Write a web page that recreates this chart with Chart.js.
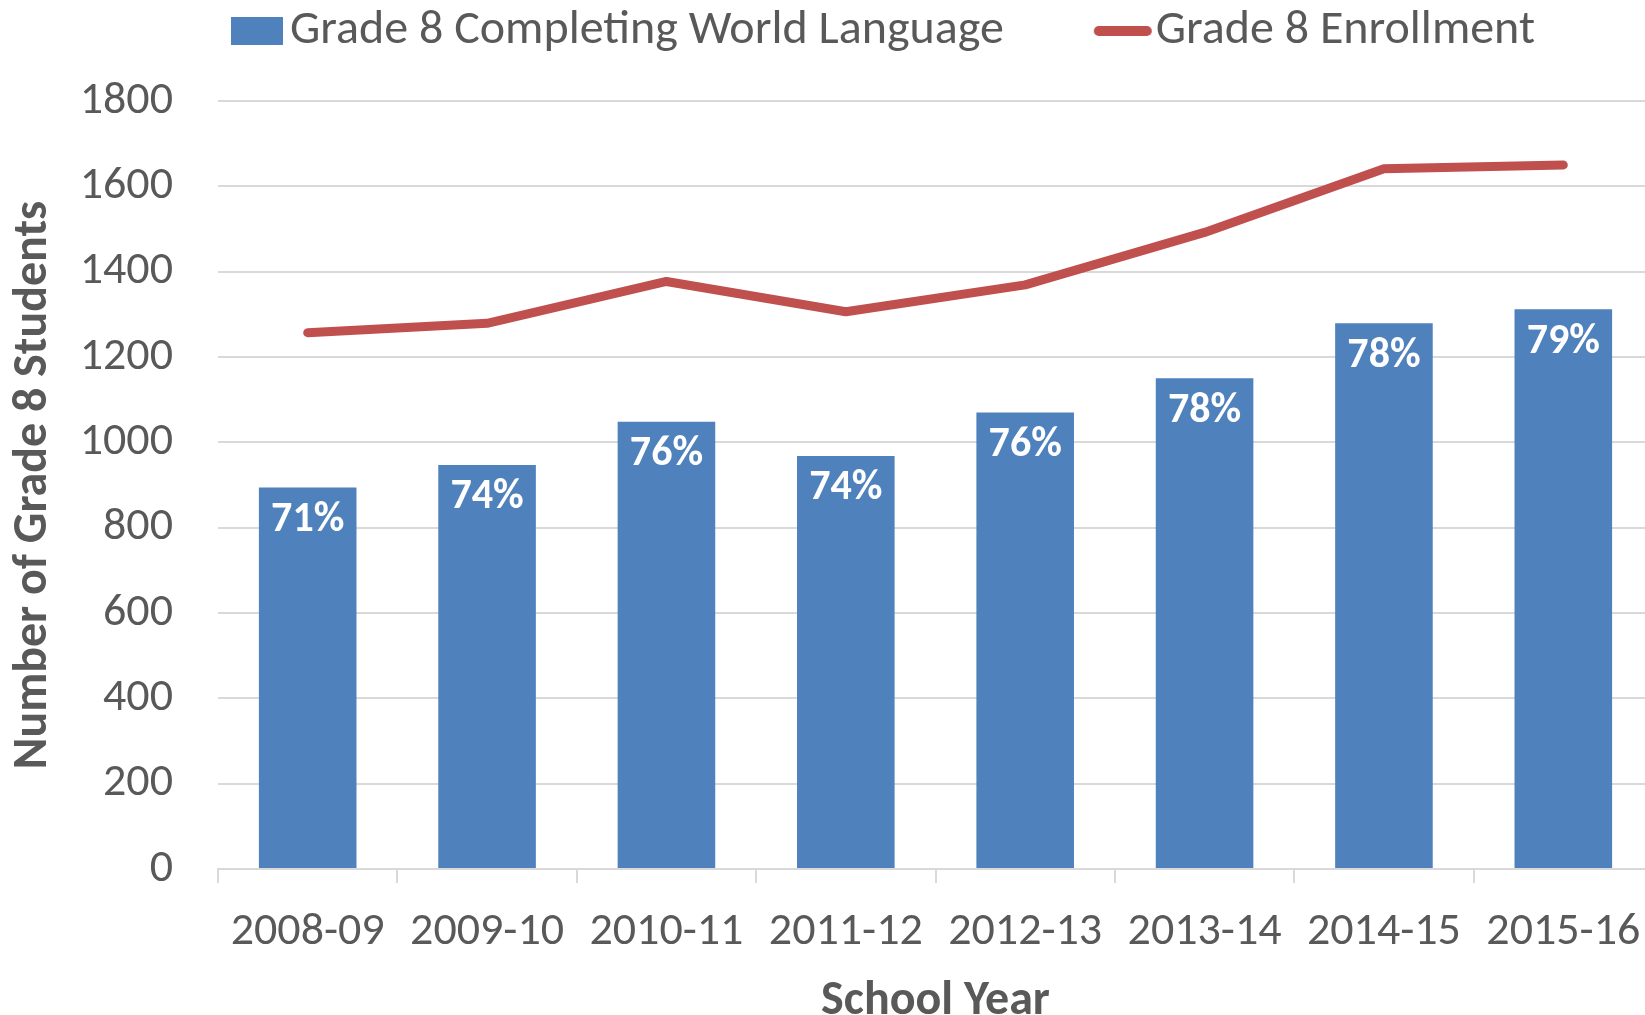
<!DOCTYPE html>
<html lang="en">
  <head>
    <meta charset="UTF-8" />
    <title>Grade 8 World Language</title>
    <script src="https://cdn.jsdelivr.net/npm/chart.js@4.4.1/dist/chart.umd.min.js"></script>
    <style>
      html, body { margin: 0; padding: 0; overflow: hidden; background: #fff; }
      canvas { display: block; }
    </style>
  </head>
  <body>
    <!-- a little wider than the window: the original is cut off on the right -->
    <canvas id="myChart" width="1653" height="1015"></canvas>

    <script>
      const years = ["2008-09", "2009-10", "2010-11", "2011-12", "2012-13", "2013-14", "2014-15", "2015-16"];
      const completing = [894, 947, 1048, 968, 1070, 1150, 1279, 1312];
      const enrollment = [1257, 1279, 1377, 1306, 1369, 1492, 1641, 1650];
      const pctLabels = ["71%", "74%", "76%", "74%", "76%", "78%", "78%", "79%"];
      const yTicks = [0, 200, 400, 600, 800, 1000, 1200, 1400, 1600, 1800];

      const FONT = "'Carlito', 'Liberation Sans Narrow', Lato, 'Open Sans', sans-serif";
      const GREY = "#595959";
      const BLUE = "#4f81bd";
      const RED = "#c0504d";
      const LEGEND_GAP = 110;

      // legend markers as small images so the text can sit close to them
      function makeMarker(w, h, draw) {
        const c = document.createElement("canvas");
        c.width = w;
        c.height = h;
        draw(c.getContext("2d"));
        return c;
      }
      const barMarker = makeMarker(52, 28, (g) => {
        g.fillStyle = BLUE;
        g.fillRect(0, 0, 52, 28);
      });
      const lineMarker = makeMarker(60, 12, (g) => {
        g.strokeStyle = RED;
        g.lineWidth = 10;
        g.lineCap = "round";
        g.beginPath();
        g.moveTo(6, 6);
        g.lineTo(54, 6);
        g.stroke();
      });

      // white % labels inside the bars
      const barLabels = {
        id: "barLabels",
        afterDatasetsDraw(chart) {
          const ctx = chart.ctx;
          const meta = chart.getDatasetMeta(0);
          ctx.save();
          ctx.fillStyle = "#fff";
          ctx.font = "bold 42px " + FONT;
          ctx.textAlign = "center";
          ctx.textBaseline = "middle";
          meta.data.forEach((bar, i) => {
            ctx.fillText(pctLabels[i], bar.x, bar.y + 33);
          });
          ctx.restore();
        },
      };

      // legend: fixed height above the plot, moved up/right like the original
      const legendPlace = {
        id: "legendPlace",
        beforeLayout(chart) {
          const lg = chart.legend;
          if (lg && !lg._wrapped) {
            const fit = lg.fit;
            lg.fit = function () {
              fit.call(this);
              this.height = 101;
            };
            lg._wrapped = true;
          }
        },
        afterLayout(chart) {
          chart.legend.left = 248 - LEGEND_GAP;
          chart.legend.top = 7 - LEGEND_GAP;
        },
      };

      const ctx = document.getElementById("myChart").getContext("2d");
      const myChart = new Chart(ctx, {
        type: "bar",
        data: {
          labels: years,
          datasets: [
            {
              label: "Grade 8 Completing World Language",
              data: completing,
              backgroundColor: BLUE,
              barPercentage: 0.544,
              categoryPercentage: 1,
              pointStyle: barMarker,
            },
            {
              type: "line",
              label: "Grade 8 Enrollment",
              data: enrollment,
              borderColor: RED,
              backgroundColor: RED,
              borderWidth: 9,
              borderCapStyle: "round",
              borderJoinStyle: "round",
              pointRadius: 0,
              pointStyle: lineMarker,
              tension: 0,
            },
          ],
        },
        options: {
          responsive: false,
          animation: false,
          plugins: {
            tooltip: { enabled: false },
            legend: {
              position: "top",
              align: "start",
              labels: {
                usePointStyle: true,
                pointStyleWidth: 18,
                boxHeight: 28,
                padding: LEGEND_GAP,
                color: GREY,
                font: { family: FONT, size: 48 },
              },
            },
          },
          scales: {
            x: {
              grid: {
                drawOnChartArea: false,
                drawTicks: true,
                tickLength: 14,
                color: "#d9d9d9",
                lineWidth: 2,
              },
              border: { color: "#d9d9d9", width: 2 },
              ticks: {
                color: GREY,
                font: { family: FONT, size: 46 },
                padding: 22,
                maxRotation: 0,
                autoSkip: false,
              },
              title: {
                display: true,
                text: "School Year",
                color: GREY,
                font: { family: FONT, size: 48, weight: "bold", lineHeight: 1 },
                padding: { top: 0, bottom: -11 },
              },
              afterFit(scale) {
                scale.height = 146;
                scale.paddingLeft = 0;
                scale.paddingRight = 0;
              },
            },
            y: {
              min: 0,
              max: 1800,
              afterBuildTicks(scale) {
                scale.ticks = yTicks.map((v) => ({ value: v }));
              },
              grid: { color: "#d9d9d9", lineWidth: 2, drawTicks: false },
              border: { display: false },
              ticks: {
                color: GREY,
                font: { family: FONT, size: 46 },
                padding: 45,
                callback: (v) => String(v),
              },
              title: {
                display: true,
                text: "Number of Grade 8 Students",
                color: GREY,
                font: { family: FONT, size: 48, weight: "bold", lineHeight: 1 },
                padding: { top: 10, bottom: 0 },
              },
              afterFit(scale) {
                scale.width = 218;
              },
            },
          },
        },
        plugins: [barLabels, legendPlace],
      });
    </script>
  </body>
</html>
